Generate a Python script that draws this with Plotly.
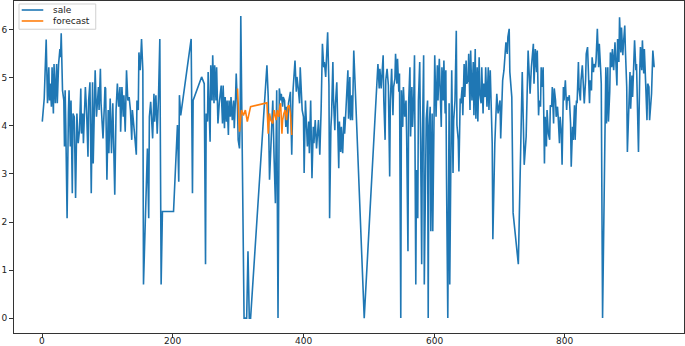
import plotly.graph_objects as go

sale_x = [0, 3, 6, 8, 10, 11, 12, 14, 15, 17, 18, 20, 22, 23, 25, 27, 28, 29, 31, 33, 34, 35, 36, 38, 40, 41, 43, 44, 46, 47, 49, 51, 53, 55, 57, 59, 60, 62, 63, 65, 66, 68, 70, 71, 73, 75, 77, 78, 80, 81, 83, 84, 86, 87, 89, 90, 92, 93, 95,
          96, 97, 99, 101, 102, 104, 106, 108, 111, 113, 115, 117, 119, 120, 122, 124, 125, 127, 129, 131, 133, 135, 137, 138, 141, 144, 145, 147, 148, 150, 152, 154, 155, 161, 163, 164, 166, 168, 169, 171, 172, 174, 176, 178, 180, 182, 184, 201, 204, 206, 207, 209, 210, 212,
          228, 230, 231, 244, 246, 248, 250, 251, 253, 254, 256, 257, 258, 260, 261, 263, 264, 266, 267, 269, 271, 272, 274, 275, 276, 277, 279, 280, 282, 283, 285, 286, 288, 289, 291, 293, 294, 296, 297, 299, 300, 302, 303, 304, 306, 309, 313, 315, 317, 319, 344, 346, 348, 351, 353, 355, 357, 359,
          361, 363, 365, 366, 368, 369, 371, 373, 374, 376, 377, 380, 381, 382, 384, 385, 387, 389, 390, 392, 394, 395, 397, 398, 400, 401, 403, 405, 406, 408, 409, 411, 413, 415, 416, 418, 420, 423, 425, 427, 429, 431, 432, 434, 435, 437, 439, 440, 442, 443, 445, 446, 448, 449, 451, 452, 454, 455, 457, 458, 460, 462, 463, 465, 466, 468, 469, 471, 472, 474, 475, 477,
          493, 514, 516, 517, 519, 520, 522, 523, 525, 526, 528, 530, 532, 533, 535, 537, 538, 540, 541, 543, 544, 546, 547, 549, 550, 552, 553, 555, 557, 558, 560, 561, 563, 564, 566, 567, 569, 570, 572, 573, 575, 576, 578, 580, 581, 582, 584, 585, 587, 588, 590, 591, 592, 594, 595, 597, 598, 600, 601, 603, 605, 606, 608,
          611, 612, 614, 615, 617, 618, 619, 621, 623, 624, 626, 627, 629, 630, 632, 634, 635, 637, 638, 640, 641, 643, 644, 646, 647, 649, 650, 652, 653, 655, 656, 658, 660, 661, 663, 664, 666, 667, 669, 670, 672, 673, 675, 676, 678, 679, 681, 683, 684, 686, 687, 689, 690, 692, 693, 695, 696, 698, 699, 701, 702, 704, 705, 707, 709, 710, 712, 713, 715, 716, 719, 721, 729, 735, 738, 741, 744,
          746, 747, 749, 750, 752, 753, 755, 757, 758, 760, 761, 763, 764, 766, 767, 769, 770, 772, 773, 775, 777, 778, 780, 781, 783, 784, 786, 787, 789, 790, 792, 793, 795, 796, 798, 799, 801, 803, 804, 806, 807, 809, 810, 812, 813, 815, 816, 818, 819, 821, 822, 824, 825, 827, 829, 830, 832, 833, 835, 836, 838, 839, 841, 842, 844, 845, 847, 848, 850, 852, 853, 855, 856, 858,
          863, 864, 866, 867, 869, 870, 872, 873, 875, 877, 878, 880, 881, 883, 884, 886, 887, 889, 890, 892, 893, 895, 896, 898, 900, 901, 903, 904, 906, 907, 909, 910, 912, 913, 915, 916, 918, 919, 921, 922, 924, 926, 927, 929, 930, 932, 933, 935, 937]

sale_y = [4.09, 4.57, 5.80, 4.47, 5.22, 4.53, 4.88, 4.40, 5.22, 4.26, 5.29, 4.47, 5.29, 4.47, 5.29, 5.60, 5.43, 5.93, 4.74, 4.53, 3.57, 4.74, 4.02, 2.08, 4.26, 4.74, 3.57, 4.53, 2.60, 4.26, 4.19, 2.50, 4.26, 3.64, 3.91, 4.78, 3.84, 4.26, 3.64, 4.47, 4.81, 4.26, 3.36, 4.53, 4.91, 2.60, 4.91, 3.22, 4.26, 5.16, 4.19, 4.47, 4.81, 4.33, 5.19, 4.47, 4.12, 3.74, 4.40,
          4.81, 4.78, 2.88, 4.33, 3.43, 4.57, 3.43, 4.47, 2.57, 4.33, 4.88, 4.40, 4.81, 3.88, 4.81, 4.19, 4.64, 3.88, 5.16, 4.53, 4.60, 4.33, 3.71, 4.33, 3.88, 3.40, 4.53, 4.33, 5.53, 5.16, 5.81, 5.16, 0.70, 3.53, 2.08, 4.19, 4.50, 3.91, 3.74, 4.67, 4.09, 4.64, 3.84, 4.60, 5.81, 0.70, 2.22, 2.22, 3.29, 3.95, 4.02, 2.84, 4.64, 4.22,
          5.81, 2.60, 4.53, 5.02, 4.95, 4.88, 1.12, 4.26, 4.09, 5.12, 4.12, 3.67, 5.26, 4.53, 5.47, 4.47, 5.26, 4.53, 5.22, 4.05, 4.47, 4.67, 4.84, 4.40, 4.05, 4.84, 3.95, 4.60, 4.09, 4.53, 3.81, 4.53, 4.19, 4.60, 4.12, 4.53, 3.95, 4.60, 5.09, 4.33, 3.71, 3.53, 4.05, 6.29, 3.84, 0.0, 0.0, 1.39, 0.0, 0.0, 5.26, 4.60, 2.88, 4.05, 4.53, 3.33, 2.39, 4.74,
          0.0, 4.78, 4.53, 4.67, 4.40, 4.60, 4.53, 3.98, 4.40, 3.84, 4.47, 4.71, 4.05, 3.40, 4.74, 4.91, 5.36, 4.71, 5.02, 4.78, 4.47, 5.22, 4.47, 4.33, 4.19, 3.02, 4.53, 4.05, 3.57, 4.09, 3.43, 4.53, 2.91, 3.98, 3.64, 4.12, 3.53, 4.12, 3.40, 4.33, 5.71, 5.22, 5.33, 5.02, 5.29, 5.95, 4.84, 2.08, 3.98, 4.22, 5.33, 4.53, 3.91, 4.47, 4.91, 3.98, 3.12, 4.09, 3.46, 3.98, 3.43, 4.19, 3.84, 4.33, 4.74, 5.16, 4.15, 5.02, 4.12, 4.64, 4.12, 5.57,
          0.0, 5.29, 4.78, 5.19, 4.78, 5.02, 5.47, 4.53, 3.71, 4.95, 5.19, 4.84, 2.95, 4.53, 5.19, 4.22, 4.81, 4.98, 5.50, 4.88, 5.40, 4.71, 5.09, 0.0, 4.74, 3.98, 4.81, 4.19, 4.53, 3.78, 1.39, 4.47, 5.22, 3.78, 4.81, 3.98, 4.67, 5.47, 0.70, 3.08, 2.08, 4.53, 5.33, 2.74, 1.12, 3.67, 5.47, 0.70, 3.84, 4.15, 4.53, 0.0, 3.84, 4.40, 1.81, 4.26, 1.81, 4.53, 5.47, 4.19, 5.26, 4.53, 5.40,
          3.98, 5.22, 4.53, 5.36, 4.26, 5.16, 2.95, 0.0, 4.47, 0.70, 3.71, 5.16, 3.02, 4.12, 4.53, 5.98, 4.02, 3.71, 3.05, 4.57, 4.47, 4.81, 4.22, 5.29, 4.60, 5.36, 4.88, 4.95, 5.50, 4.33, 5.57, 4.53, 5.33, 4.22, 5.60, 4.15, 5.22, 4.09, 5.43, 4.67, 4.47, 5.22, 4.26, 4.88, 4.60, 5.22, 4.40, 5.22, 4.33, 5.16, 4.60, 3.64, 1.64, 3.57, 3.64, 4.33, 4.67, 4.26, 4.33, 4.53, 3.74, 4.95, 4.95, 5.16, 5.47, 5.74, 5.50, 5.85, 6.02, 5.12, 4.60, 2.19, 1.12, 5.12, 3.19, 3.78, 5.57,
          4.81, 4.67, 5.22, 5.43, 5.71, 4.88, 5.60, 5.12, 5.57, 4.22, 4.53, 4.40, 5.22, 4.81, 5.22, 3.22, 4.19, 3.57, 4.33, 3.84, 3.71, 4.43, 4.40, 4.81, 4.05, 4.78, 4.53, 4.19, 4.40, 4.19, 3.64, 4.19, 3.84, 3.19, 4.81, 4.53, 4.95, 4.33, 4.60, 4.53, 4.64, 4.05, 3.15, 3.98, 3.71, 4.43, 3.71, 4.53, 4.47, 5.33, 4.78, 4.53, 4.95, 5.26, 4.67, 4.47, 4.95, 5.50, 5.64, 5.22, 4.47, 4.95, 4.74, 5.43, 5.12, 5.29, 5.22, 5.36, 6.02, 5.22, 5.71, 5.19, 4.88, 0.0,
          5.22, 4.05, 5.22, 4.09, 4.71, 5.53, 5.22, 5.60, 5.16, 5.74, 5.40, 4.84, 5.81, 5.33, 6.26, 5.53, 6.05, 5.47, 5.71, 6.09, 5.57, 4.81, 3.46, 4.53, 5.12, 4.36, 5.05, 4.60, 5.40, 5.78, 5.16, 5.29, 4.05, 3.46, 5.16, 5.64, 5.16, 5.78, 5.09, 5.60, 4.88, 4.12, 4.88, 4.81, 4.12, 4.60, 4.67, 5.57, 5.22]

forecast_x = [299, 302, 305, 308, 311, 314, 319, 344, 346, 348, 350, 353, 355, 356, 358, 360, 362, 364, 365, 367, 368, 370, 372, 374, 376, 378, 380, 382]
forecast_y = [4.78, 3.88, 4.33, 4.22, 4.33, 4.09, 4.40, 4.48, 3.84, 4.26, 4.12, 4.05, 4.33, 4.26, 4.12, 4.33, 4.19, 4.43, 4.47, 3.84, 4.12, 4.26, 4.33, 4.12, 4.40, 4.43, 4.26, 3.81]

x_ticks = [0, 200, 400, 600, 800]
y_ticks = [0, 1, 2, 3, 4, 5, 6]
series_names = ["sale", "forecast"]
series_colors = ["#1f77b4", "#ff7f0e"]

fig = go.Figure()
fig.add_trace(go.Scatter(x=sale_x, y=sale_y, mode="lines", name=series_names[0],
                         line=dict(color=series_colors[0], width=1.6)))
fig.add_trace(go.Scatter(x=forecast_x, y=forecast_y, mode="lines", name=series_names[1],
                         line=dict(color=series_colors[1], width=1.6)))

axis_common = dict(showgrid=False, zeroline=False, showline=True, mirror=True,
                   linecolor="#333333", linewidth=1, ticks="outside", ticklen=4,
                   tickcolor="#333333", tickfont=dict(size=9, color="#222222"),
                   automargin=False)

# x tick labels as text just under the axis (space below the frame is tight)
annotations = [dict(x=v, y=0, xref="x", yref="paper", text=str(v), showarrow=False,
                    yanchor="top", xanchor="center", yshift=-2, borderpad=0,
                    font=dict(size=9, color="#222222")) for v in x_ticks]

# compact legend box in the upper-left corner, matplotlib style
shapes = [dict(type="rect", xref="paper", yref="paper", x0=0.0075, x1=0.122, y0=0.915, y1=0.991,
               line=dict(color="#d0d0d0", width=1), fillcolor="rgba(255,255,255,0.85)", layer="above")]
leg_y = [0.9729, 0.9398]
for name, col, yy in zip(series_names, series_colors, leg_y):
    shapes.append(dict(type="line", xref="paper", yref="paper", x0=0.0115, x1=0.0437, y0=yy, y1=yy,
                       line=dict(color=col, width=1.6), layer="above"))
    annotations.append(dict(x=0.0545, y=yy, xref="paper", yref="paper", text=name, showarrow=False,
                            xanchor="left", yanchor="middle", font=dict(size=9, color="#222222")))

fig.update_layout(
    width=685, height=346,
    margin=dict(l=14, r=1, t=1, b=13),
    paper_bgcolor="white", plot_bgcolor="white",
    font=dict(family="DejaVu Sans", size=9, color="#222222"),
    xaxis=dict(range=[-43.3, 982.7], tickvals=x_ticks, showticklabels=False, **axis_common),
    yaxis=dict(range=[-0.31, 6.6], tickvals=y_ticks, **axis_common),
    showlegend=False,
    shapes=shapes,
    annotations=annotations,
)
fig.write_html("out.html", config={"displayModeBar": False},
               post_script="document.body.style.margin='0';")
